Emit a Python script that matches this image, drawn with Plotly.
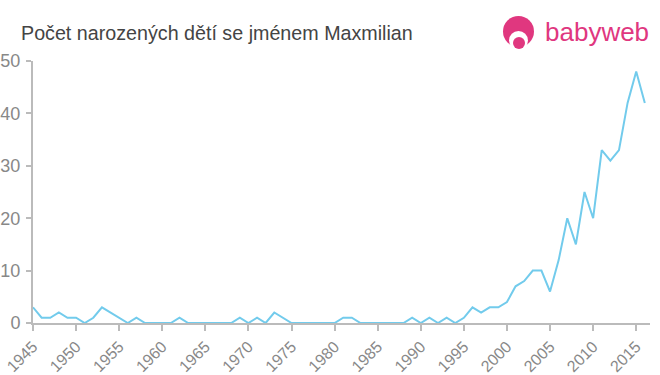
import plotly.graph_objects as go

years = list(range(1945, 2017))
counts = [3, 1, 1, 2, 1, 1, 0, 1, 3, 2, 1, 0, 1, 0, 0,  # 1945-1959
          0, 0, 1, 0, 0, 0, 0, 0, 0, 1,                  # 1960-1969
          0, 1, 0, 2, 1, 0, 0, 0, 0, 0,                  # 1970-1979
          0, 1, 1, 0, 0, 0, 0, 0, 0, 1,                  # 1980-1989
          0, 1, 0, 1, 0, 1, 3, 2, 3, 3,                  # 1990-1999
          4, 7, 8, 10, 10, 6, 12, 20, 15, 25,            # 2000-2009
          20, 33, 31, 33, 42, 48, 42]                    # 2010-2016
x_ticks = list(range(1945, 2016, 5))
y_ticks = [0, 10, 20, 30, 40, 50]
title = "Počet narozených dětí se jménem Maxmilian"

L, R, T, B = 33, 10, 61, 52
PW, PH = 660 - L - R, 375 - T - B


def px(x):
    return (x - L) / PW


def py(y):
    return (375 - B - y) / PH


fig = go.Figure()
fig.add_trace(go.Scatter(x=years, y=counts, mode="lines",
                         line=dict(color="#72cbec", width=2), hoverinfo="x+y"))

fig.update_layout(
    width=660, height=375,
    margin=dict(l=L, r=R, t=T, b=B, autoexpand=False),
    paper_bgcolor="white", plot_bgcolor="white",
    showlegend=False,
    font=dict(family="Liberation Sans, Arial, sans-serif", color="#888888"),
    xaxis=dict(range=[1945, 2016.6], tickvals=x_ticks, ticktext=[str(t) for t in x_ticks],
               tickangle=-45, ticks="outside", ticklen=6, tickcolor="#bbbbbb", tickwidth=2,
               showline=True, linecolor="#bbbbbb", linewidth=2, showgrid=False,
               zeroline=False, automargin=False, tickfont=dict(size=16, color="#888888")),
    yaxis=dict(range=[0, 50], tickvals=y_ticks, ticks="outside", ticklen=5,
               tickcolor="#bbbbbb", tickwidth=2, showline=True,
               linecolor="#bbbbbb", linewidth=2, showgrid=False, zeroline=False,
               automargin=False, ticklabelstandoff=2,
               tickfont=dict(size=18, color="#888888")),
)

fig.add_annotation(xref="paper", yref="paper", x=px(19), y=py(33), xanchor="left",
                   yanchor="middle", text=title, showarrow=False,
                   font=dict(size=19.7, color="#444444"))

# babyweb logo (text + simple icon)
fig.add_annotation(xref="paper", yref="paper", x=px(651), y=py(32), xanchor="right",
                   yanchor="middle", text="babyweb", showarrow=False,
                   font=dict(size=26, color="#e0377f", family="Liberation Sans, Arial, sans-serif"))
fig.add_shape(type="circle", xref="paper", yref="paper",
              x0=px(503), x1=px(534), y0=py(47), y1=py(16),
              fillcolor="#e0377f", line=dict(width=0))
fig.add_shape(type="circle", xref="paper", yref="paper",
              x0=px(509), x1=px(528), y0=py(50), y1=py(31),
              fillcolor="white", line=dict(width=0))
fig.add_shape(type="circle", xref="paper", yref="paper",
              x0=px(513), x1=px(525), y0=py(49), y1=py(37),
              fillcolor="#e0377f", line=dict(width=0))

fig.write_html("out.html", config={"displayModeBar": False},
               post_script="document.body.style.margin='0';")
